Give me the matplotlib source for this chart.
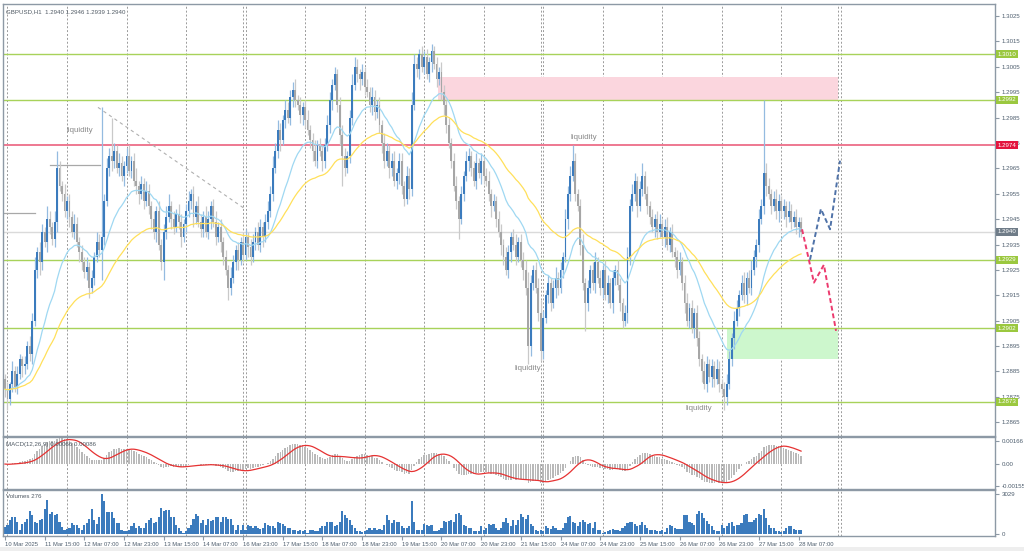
import numpy as np
import pandas as pd
import matplotlib

matplotlib.use("Agg")
import matplotlib.pyplot as plt
import matplotlib.transforms as mtransforms
from matplotlib.patches import Rectangle

plt.rcParams["font.family"] = ["Liberation Sans", "DejaVu Sans"]

# ---- hourly GBPUSD closes, 10 Mar 23:00 .. 28 Mar 08:00
CLOSE = [
    1.2878, 1.2874, 1.2880, 1.2885, 1.2879, 1.2884, 1.2890, 1.2887, 1.2888, 1.2895,
    1.2892, 1.2905, 1.2925, 1.2932, 1.2928, 1.2940, 1.2936, 1.2945, 1.2942, 1.2937,
    1.2944, 1.2965, 1.2958, 1.2955, 1.2948, 1.2952, 1.2946, 1.2940, 1.2943, 1.2936,
    1.2932, 1.2928, 1.2924, 1.2926, 1.2918, 1.2922, 1.2930, 1.2936, 1.2933, 1.2938,
    1.2952, 1.2965, 1.2970, 1.2968, 1.2972, 1.2965, 1.2967, 1.2962, 1.2966, 1.2970,
    1.2964, 1.2968, 1.2960, 1.2958, 1.2955, 1.2959, 1.2952, 1.2956, 1.2950, 1.2945,
    1.2940, 1.2948, 1.2935, 1.2928, 1.2940, 1.2946, 1.2950, 1.2945, 1.2942, 1.2947,
    1.2944, 1.2938, 1.2943, 1.2948, 1.2952, 1.2955, 1.2946, 1.2950, 1.2944, 1.2941,
    1.2946, 1.2940, 1.2945, 1.2950, 1.2944, 1.2938, 1.2942, 1.2936, 1.2930, 1.2925,
    1.2918, 1.2922, 1.2928, 1.2933, 1.2929, 1.2936, 1.2931, 1.2938, 1.2934, 1.2930,
    1.2936, 1.2940, 1.2935, 1.2942, 1.2938, 1.2944, 1.2948, 1.2955, 1.2965, 1.2972,
    1.2980, 1.2976, 1.2984, 1.2988, 1.2985, 1.2993, 1.2996, 1.2992, 1.2990, 1.2986,
    1.2989, 1.2984, 1.2980, 1.2976, 1.2972, 1.2968, 1.2974, 1.2972, 1.2968, 1.2974,
    1.2982, 1.2992, 1.2998, 1.3002, 1.2990, 1.2978, 1.2970, 1.2965, 1.2970, 1.2985,
    1.2998, 1.3005, 1.3002, 1.3000, 1.3003, 1.2997, 1.2995, 1.2990, 1.2993, 1.2987,
    1.2990, 1.2982, 1.2975, 1.2968, 1.2972, 1.2965, 1.2968, 1.2960, 1.2963, 1.2968,
    1.2958, 1.2953, 1.2962, 1.2957, 1.2990, 1.3006, 1.3004, 1.3010, 1.3005, 1.3009,
    1.3002, 1.3007, 1.3011, 1.3006, 1.3000, 1.3003, 1.2995, 1.2990, 1.2982, 1.2975,
    1.2968, 1.2958, 1.2952, 1.2945, 1.2955, 1.2962, 1.2968, 1.2970, 1.2965, 1.2960,
    1.2967, 1.2963, 1.2968, 1.2962, 1.2960, 1.2955, 1.2950, 1.2952, 1.2945, 1.2940,
    1.2935, 1.2930, 1.2925, 1.2932, 1.2938, 1.2935, 1.2930, 1.2936, 1.2929, 1.2925,
    1.2918, 1.2895, 1.2920, 1.2925, 1.2918, 1.2908, 1.2893, 1.2906, 1.2915, 1.2920,
    1.2912, 1.2918, 1.2922, 1.2918, 1.2925, 1.2930, 1.2945, 1.2955, 1.2962, 1.2968,
    1.2955, 1.2950, 1.2935, 1.2920, 1.2912, 1.2918, 1.2925, 1.2920, 1.2928, 1.2922,
    1.2918, 1.2925, 1.2915, 1.2920, 1.2912, 1.2922, 1.2925, 1.2919, 1.2912, 1.2905,
    1.2908, 1.2930, 1.2950, 1.2955, 1.2960, 1.2950, 1.2957, 1.2962, 1.2955, 1.2950,
    1.2946, 1.2942, 1.2945, 1.2940, 1.2943, 1.2938, 1.2942, 1.2935, 1.2940, 1.2932,
    1.2930, 1.2925, 1.2928, 1.2920, 1.2912, 1.2905, 1.2910, 1.2902, 1.2908, 1.2898,
    1.2890, 1.2885, 1.2880, 1.2888, 1.2883, 1.2887, 1.2882, 1.2886, 1.2880, 1.2878,
    1.2875, 1.2880, 1.2890, 1.2898, 1.2905, 1.2910, 1.2915, 1.2920, 1.2915, 1.2922,
    1.2918, 1.2925, 1.2930, 1.2935, 1.2945, 1.2950, 1.2963, 1.2958, 1.2955, 1.2950,
    1.2953, 1.2948, 1.2952, 1.2948, 1.2950, 1.2946, 1.2948, 1.2944, 1.2946, 1.2942,
    1.2944, 1.2940,
]
FIRST_OPEN = 1.2882

# wick lengths beyond the body, in pips
UP_WICK = [
    2, 3, 1, 4, 2, 3, 2, 1, 3, 2, 4, 3, 5, 2, 4, 3, 2, 5, 3, 2,
    4, 7, 3, 2, 4, 2, 3, 2, 4, 3, 2, 3, 2, 4, 2, 3, 2, 4, 3, 51,
    3, 4, 3, 15, 3, 2, 4, 3, 2, 3, 4, 2, 3, 5, 2, 3, 2, 4, 3, 2,
    3, 2, 4, 2, 3, 4, 5, 2, 3, 2, 4, 3, 2, 3, 4, 2, 3, 2, 4, 3,
    2, 4, 3, 2, 3, 4, 2, 3, 2, 3, 2, 4, 3, 2, 3, 2, 4, 3, 2, 3,
    3, 2, 4, 3, 2, 3, 4, 3, 5, 3, 4, 3, 2, 4, 3, 3, 3, 4, 2, 3,
    2, 3, 4, 2, 3, 4, 2, 3, 2, 3, 4, 3, 2, 3, 2, 3, 4, 3, 2, 3,
    4, 4, 3, 2, 3, 2, 3, 2, 4, 3, 2, 3, 2, 4, 3, 2, 3, 4, 2, 3,
    3, 2, 4, 3, 5, 4, 3, 2, 3, 2, 3, 2, 3, 2, 3, 2, 4, 3, 2, 3,
    2, 3, 4, 2, 3, 2, 4, 3, 2, 3, 4, 2, 3, 2, 3, 4, 2, 3, 2, 3,
    3, 2, 4, 3, 2, 3, 4, 2, 3, 3, 4, 6, 3, 2, 3, 4, 5, 3, 2, 3,
    2, 3, 4, 2, 3, 2, 4, 3, 4, 6, 3, 2, 3, 4, 2, 3, 2, 3, 4, 2,
    3, 2, 4, 3, 2, 3, 2, 4, 3, 2, 3, 4, 3, 4, 3, 2, 3, 5, 2, 3,
    2, 3, 2, 3, 4, 2, 3, 4, 2, 3, 2, 3, 4, 2, 3, 4, 2, 3, 2, 3,
    3, 2, 4, 3, 2, 3, 2, 4, 3, 2, 3, 4, 3, 2, 4, 3, 2, 3, 4, 2,
    3, 4, 3, 2, 4, 3, 29, 4, 3, 2, 3, 4, 3, 2, 3, 2, 4, 3, 2, 3, 2, 2,
]
DN_WICK = [
    3, 4, 2, 3, 2, 3, 2, 4, 3, 2, 3, 4, 2, 3, 5, 3, 2, 4, 3, 2,
    3, 4, 2, 3, 2, 3, 4, 2, 3, 2, 4, 3, 2, 3, 4, 2, 3, 2, 3, 12,
    3, 2, 3, 4, 3, 2, 3, 2, 4, 3, 2, 3, 2, 3, 4, 2, 3, 2, 3, 4,
    3, 4, 2, 3, 7, 3, 2, 4, 3, 2, 3, 4, 2, 3, 2, 3, 4, 3, 2, 3,
    3, 2, 3, 4, 2, 3, 2, 4, 3, 2, 5, 3, 2, 3, 4, 2, 3, 2, 4, 3,
    2, 3, 2, 3, 4, 2, 3, 2, 3, 2, 3, 4, 2, 3, 2, 3, 4, 3, 2, 3,
    4, 3, 2, 3, 4, 2, 3, 2, 4, 3, 2, 3, 4, 2, 3, 4, 12, 3, 2, 3,
    3, 2, 3, 4, 2, 3, 2, 3, 4, 3, 2, 3, 4, 3, 2, 4, 3, 2, 3, 4,
    3, 3, 2, 4, 3, 2, 3, 4, 2, 3, 2, 3, 4, 2, 3, 2, 3, 4, 3, 2,
    3, 2, 3, 8, 2, 3, 2, 4, 3, 2, 3, 2, 4, 3, 2, 3, 4, 2, 3, 2,
    4, 3, 2, 3, 4, 2, 3, 2, 3, 4, 3, 7, 4, 3, 2, 3, 4, 3, 2, 3,
    3, 2, 4, 3, 2, 3, 2, 4, 3, 2, 3, 2, 4, 3, 11, 3, 2, 3, 4, 2,
    3, 4, 2, 3, 2, 4, 3, 2, 3, 3, 2, 4, 3, 2, 3, 4, 2, 3, 2, 3,
    3, 2, 4, 3, 2, 3, 4, 2, 3, 2, 4, 3, 2, 3, 4, 2, 3, 2, 4, 3,
    3, 4, 2, 3, 2, 4, 3, 2, 3, 2, 5, 3, 2, 3, 4, 2, 3, 2, 3, 4,
    2, 3, 2, 4, 3, 2, 3, 4, 2, 3, 2, 3, 4, 2, 3, 4, 2, 3, 2, 3, 4, 2,
]

VOLUME = [
    550, 720, 1030, 1270, 1270, 910, 310, 790, 910, 1150,
    1750, 1440, 910, 860, 1030, 1100, 1920, 2600, 1510, 1680,
    1440, 1510, 910, 550, 310, 380, 480, 860, 670, 670,
    430, 310, 670, 860, 1100, 1870, 1030, 790, 1270, 3029,
    2500, 1670, 1670, 1670, 1180, 860, 810, 270, 200, 250,
    320, 570, 810, 490, 570, 440, 490, 810, 1060, 1180,
    810, 930, 1300, 1970, 1720, 1800, 1800, 1300, 1300, 690,
    440, 250, 70, 250, 440, 690, 1130, 1480, 1380, 810,
    1060, 690, 1130, 980, 1060, 1300, 1300, 930, 1300, 1300,
    1130, 1130, 690, 320, 690, 320, 690, 320, 690, 570,
    440, 570, 440, 390, 440, 810, 690, 570, 570, 490,
    930, 810, 740, 570, 490, 490, 320, 320, 200, 320,
    250, 320, 70, 320, 320, 200, 250, 440, 570, 570,
    930, 930, 930, 640, 690, 930, 1720, 1430, 1180, 1060,
    690, 440, 200, 200, 150, 250, 320, 440, 320, 440,
    320, 390, 320, 690, 1430, 1060, 810, 1060, 890, 890,
    570, 440, 440, 570, 2530, 930, 320, 320, 320, 740,
    690, 570, 690, 250, 200, 320, 440, 980, 930, 980,
    1060, 930, 1550, 1620, 1430, 690, 570, 440, 440, 250,
    250, 250, 570, 320, 490, 740, 690, 740, 440, 320,
    440, 930, 1180, 810, 570, 1060,
    690, 1060, 1480, 1300, 1130, 1430, 740, 570, 320, 250,
    270, 250, 570, 490, 390, 640, 490, 320, 270, 440,
    810, 1300, 1380, 930, 810, 570, 890, 1060, 930, 740,
    810, 440, 890, 270, 320, 70, 150, 200, 320, 390,
    320, 320, 250, 490, 570, 810, 890, 930, 740, 570,
    690, 890, 690, 490, 270, 270, 320, 200, 200, 270,
    150, 490, 690, 570, 440, 390, 390, 390, 1430, 1430,
    930, 810, 690, 1550, 1720, 1620, 1180, 980, 740, 570,
    320, 200, 250, 690, 440, 640, 810, 890, 640, 690,
    690, 810, 1430, 1480, 930, 930, 1060, 1180, 1550, 1430,
    1870, 1230, 690, 490, 440, 200, 250, 150, 250, 490,
    570, 590, 390, 320, 270, 276,
]

TIME_LABELS = ["10 Mar 2025", "11 Mar 15:00", "12 Mar 07:00", "12 Mar 23:00",
               "13 Mar 15:00", "14 Mar 07:00", "16 Mar 23:00", "17 Mar 15:00",
               "18 Mar 07:00", "18 Mar 23:00", "19 Mar 15:00", "20 Mar 07:00",
               "20 Mar 23:00", "21 Mar 15:00", "24 Mar 07:00", "24 Mar 23:00",
               "25 Mar 15:00", "26 Mar 07:00", "26 Mar 23:00", "27 Mar 15:00",
               "28 Mar 07:00"]

LEVELS = [1.3010, 1.2992, 1.2974, 1.2929, 1.2902, 1.2873]
LEVEL_KIND = ["support", "support", "resist", "support", "support", "support"]
LAST_PRICE = 1.2940

SELL_ZONE = (174.6, 335.9, 1.2992, 1.3001)   # bar from, bar to, low, high
BUY_ZONE = (291.1, 335.9, 1.2890, 1.2902)

FC_DOWN_X = [321.4, 326.2, 330.2, 335.1]
FC_DOWN_Y = [1.2941, 1.2920, 1.2927, 1.2901]
FC_UP_X = [324.6, 329.0, 332.7, 336.7]
FC_UP_Y = [1.2929, 1.2949, 1.2941, 1.2968]

LIQ_X = [30.2, 233.5, 210.9, 279.8]
LIQ_Y = [1.2980, 1.2977, 1.2886, 1.28705]

TREND_X = [37.5, 96.8]
TREND_Y = [1.2989, 1.2949]
OLD_LINES = [(18.1, 38.3, 1.29663), (-1.2, 12.1, 1.29474)]

PIP = 0.0001
BULL, BEAR = "#3b7bbd", "#a6a6a6"
BULL_W, BEAR_W = "#94bbe0", "#c9c9c9"
GREEN, RED, FRAME, AXTXT = "#a8d25a", "#ee7890", "#8d99a5", "#4e5e6e"
FS = 4.4

close = np.array(CLOSE)
n = len(close)
open_ = np.r_[FIRST_OPEN, close[:-1]]
high = np.maximum(open_, close) + np.array(UP_WICK) * PIP
low = np.minimum(open_, close) - np.array(DN_WICK) * PIP
idx = np.arange(n)
up = close >= open_

s = pd.Series(close)
ma_fast = s.ewm(span=20, adjust=False).mean()
ma_slow = s.ewm(span=50, adjust=False).mean()
macd = s.ewm(span=12, adjust=False).mean() - s.ewm(span=26, adjust=False).mean()
signal = macd.rolling(9, min_periods=1).mean()

# hourly bar clock (weekend gap: Fri 22:00 -> Sun 23:00), used for day grid lines
hours = pd.date_range("2025-03-10 23:00", "2025-04-01 00:00", freq="h")
keep = ~(((hours.weekday == 4) & (hours.hour == 23)) | (hours.weekday == 5)
         | ((hours.weekday == 6) & (hours.hour < 23)))
hours = hours[keep]
day_bars = [i for i, t in enumerate(hours[:340])
            if t.hour == 0 or (t.weekday() == 6 and t.hour == 23)]

fig = plt.figure(figsize=(10.24, 5.51), dpi=100)
L, W = 3 / 1024, 992 / 1024
ax = fig.add_axes([L, 1 - 436 / 551, W, 432 / 551])
axm = fig.add_axes([L, 1 - 489 / 551, W, 52 / 551])
axv = fig.add_axes([L, 1 - 536 / 551, W, 46 / 551])
fig.patches.append(Rectangle((0, 0), 1, 4 / 551, transform=fig.transFigure,
                             fc="#eeeeee", ec="none"))

XL = (-0.8, -0.8 + 992 / 2.48)
for a in (ax, axm, axv):
    a.set_xlim(*XL)
    for sp in a.spines.values():
        sp.set_color(FRAME)
        sp.set_linewidth(1.0)
    for d in day_bars:
        a.axvline(d, color="#9a9a9a", lw=0.7, ls=(0, (2, 2)), zorder=0)
    a.yaxis.tick_right()
    a.tick_params(axis="y", length=3, labelsize=FS, colors=FRAME, labelcolor=AXTXT, pad=2)
    a.tick_params(axis="x", length=0, labelbottom=False)

# ---- price panel
ax.set_ylim(1.28596, 1.30297)
ticks = np.arange(1.2865, 1.30251, 0.001)
ax.set_yticks(ticks)
ax.set_yticklabels([f"{v:.4f}" for v in ticks])

x0, x1, lo, hi = SELL_ZONE
ax.add_patch(Rectangle((x0, lo), x1 - x0, hi - lo, fc="#fbd6de", ec="none", zorder=1))
x0, x1, lo, hi = BUY_ZONE
ax.add_patch(Rectangle((x0, lo), x1 - x0, hi - lo, fc="#cdf7cd", ec="none", zorder=1))

ax.axhline(LAST_PRICE, color="#dadada", lw=1.0, zorder=1)
for lv, kind in zip(LEVELS, LEVEL_KIND):
    ax.axhline(lv, color=RED if kind == "resist" else GREEN,
               lw=1.4 if kind == "resist" else 1.0, zorder=2)

ax.plot(TREND_X, TREND_Y, color="#b0b0b0", lw=0.8, ls=(0, (3, 3)), zorder=2)
for a0, a1, y in OLD_LINES:
    ax.plot([a0, a1], [y, y], color="#a8a8a8", lw=0.9, zorder=2)

ax.vlines(idx[up], low[up], high[up], color=BULL_W, lw=0.9, zorder=3)
ax.vlines(idx[~up], low[~up], high[~up], color=BEAR_W, lw=0.9, zorder=3)
body = np.maximum(np.abs(close - open_), 0.00003)
ax.bar(idx[up], body[up], bottom=np.minimum(open_, close)[up], width=0.75,
       color=BULL, lw=0, zorder=4)
ax.bar(idx[~up], body[~up], bottom=np.minimum(open_, close)[~up], width=0.75,
       color=BEAR, lw=0, zorder=4)

ax.plot(idx, ma_fast, color="#9fd8f2", lw=0.9, zorder=5)
ax.plot(idx, ma_slow, color="#ffe05a", lw=0.9, zorder=5)

ax.plot(FC_DOWN_X, FC_DOWN_Y, color="#ec3a6e", lw=1.4, ls=(0, (2.5, 1.5)), zorder=6)
ax.plot(FC_UP_X, FC_UP_Y, color="#4f72a8", lw=1.4, ls=(0, (2.5, 1.5)), zorder=6)

for x, y in zip(LIQ_X, LIQ_Y):
    ax.text(x, y, "liquidity", fontsize=5.8, color="#8a8a8a", ha="center", va="center",
            zorder=7)

ax.text(0.003, 0.982, "GBPUSD,H1  1.2940 1.2946 1.2939 1.2940", transform=ax.transAxes,
        fontsize=FS, color="#505a64", ha="left", va="center")

tr = mtransforms.blended_transform_factory(ax.transAxes, ax.transData)
tags = [(lv, "#e3163f" if k == "resist" else "#9bc83f") for lv, k in zip(LEVELS, LEVEL_KIND)]
tags.append((LAST_PRICE, "#6f7c88"))
for lv, col in tags:
    ax.text(1.003, lv, f"{lv:.4f}", transform=tr, fontsize=FS, color="white",
            ha="left", va="center", clip_on=False, zorder=10,
            bbox=dict(boxstyle="square,pad=0.25", fc=col, ec="none"))

# ---- MACD panel
axm.set_ylim(-0.0018, 0.00195)
axm.bar(idx, macd, width=0.6, color="#b9b9b9", lw=0, zorder=2)
axm.plot(idx, signal, color="#e63232", lw=0.9, zorder=3)
axm.set_yticks([0.00166, 0.0, -0.00155])
axm.set_yticklabels(["0.00166", "0.00", "-0.00155"])
axm.text(0.003, 0.86, "MACD(12,26,9) 0.00066 0.00086", transform=axm.transAxes,
         fontsize=FS, color="#505a64", ha="left", va="center")

# ---- volume panel
axv.set_ylim(-150, 3330)
axv.bar(idx, VOLUME, width=0.85, color="#3b7bbd", lw=0, zorder=2)
axv.set_yticks([3029, 0])
axv.set_yticklabels(["3029", "0"])
axv.text(0.003, 0.86, "Volumes 276", transform=axv.transAxes,
         fontsize=FS, color="#505a64", ha="left", va="center")
axv.set_xticks(np.arange(len(TIME_LABELS)) * 16)
axv.set_xticklabels(TIME_LABELS)
axv.tick_params(axis="x", length=3, labelbottom=True, labelsize=4.2, colors=FRAME,
                labelcolor=AXTXT, pad=1.5, direction="out")
for lab in axv.get_xticklabels():
    lab.set_ha("left")

fig.savefig("out.png", dpi=100, facecolor="white")
